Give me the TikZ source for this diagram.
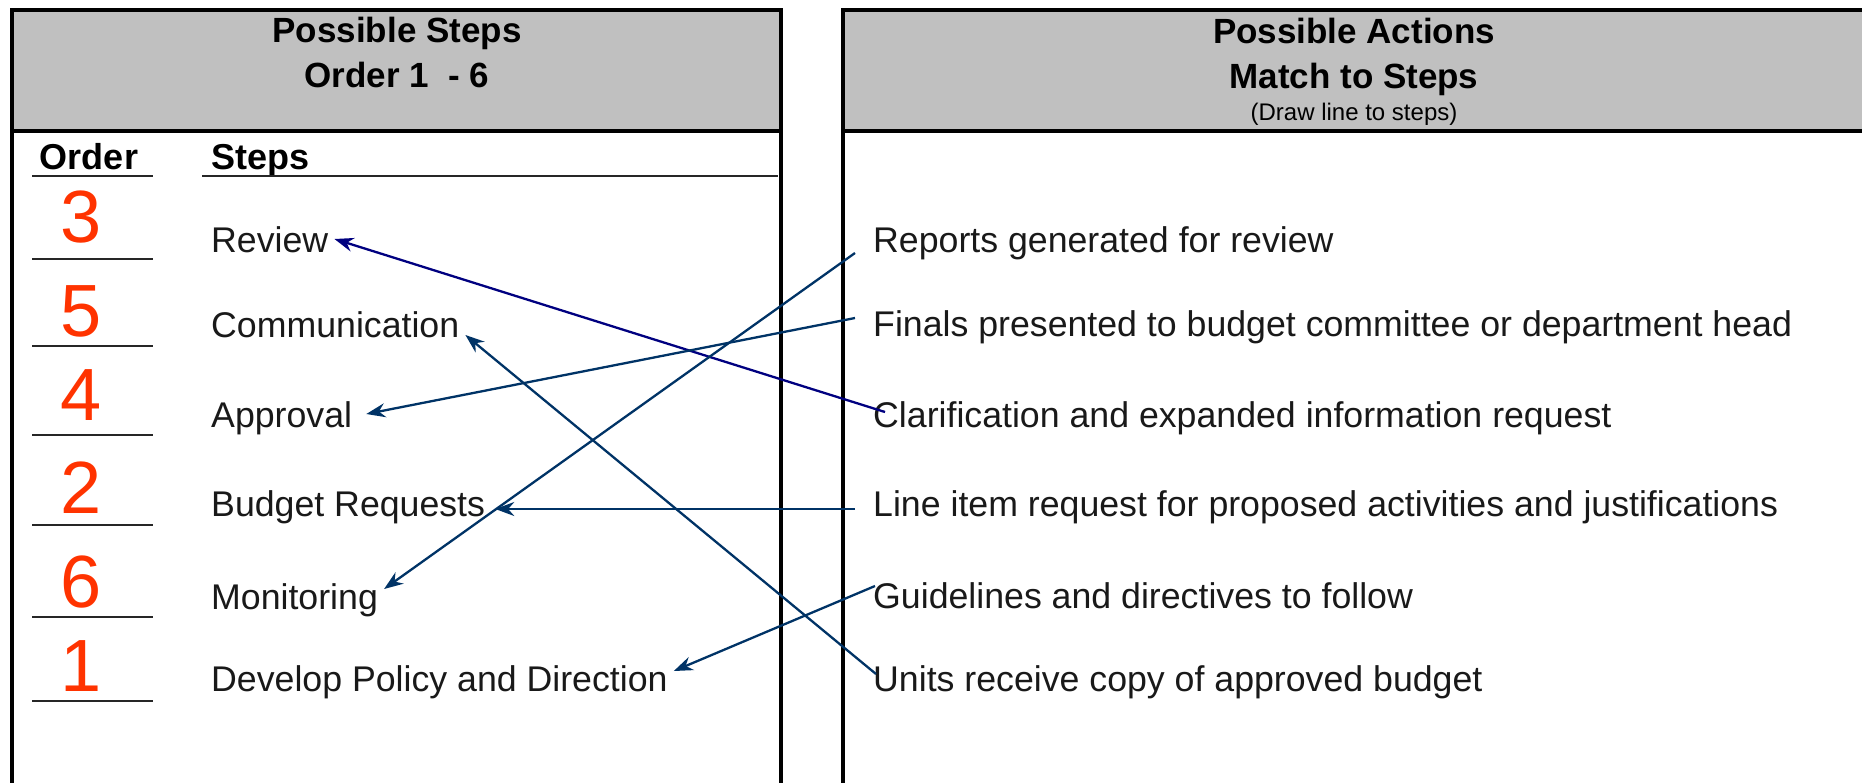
\documentclass[tikz,border=0pt]{standalone}
\usepackage{fontspec}
\setmainfont{Liberation Sans}
\usetikzlibrary{arrows.meta}
\definecolor{hdrgray}{RGB}{192,192,192}
\definecolor{ordred}{RGB}{255,51,0}
\definecolor{linkblue}{RGB}{0,51,102}
\definecolor{linknavy}{RGB}{0,0,128}

\begin{document}
\begin{tikzpicture}[x=1pt,y=-1pt,
  frame/.style={line width=3.5pt,black},
  rule/.style={line width=2.5pt,black!85},
  hdr/.style={font=\fontsize{35}{40}\selectfont\bfseries,inner sep=0pt,anchor=base},
  note/.style={font=\fontsize{24}{28}\selectfont,inner sep=0pt,anchor=base},
  colhead/.style={font=\fontsize{36}{40}\selectfont\bfseries,inner sep=0pt},
  num/.style={font=\fontsize{74}{80}\selectfont,text=ordred,inner sep=0pt},
  item/.style={font=\fontsize{35.7}{40}\selectfont,text=black!90,inner sep=0pt,anchor=base west},
  link/.style={line width=2.3pt,draw=linkblue,-{Stealth[length=19pt,width=14pt]}},
]
\useasboundingbox (0,0) rectangle (1862,782);

% header bands
\fill[hdrgray] (12,10) rectangle (781,131);
\fill[hdrgray] (843,10) rectangle (1880,131);

% frames of the two tables
\draw[frame] (12,795) -- (12,10) -- (781,10) -- (781,795);
\draw[frame] (12,131) -- (781,131);
\draw[frame] (843,795) -- (843,10) -- (1880,10);
\draw[frame] (843,131) -- (1880,131);

% header titles
\node[hdr] (lt1) at (397,42) {Possible Steps};
\node[hdr] (lt2) at (397,87) {Order 1\ \ - 6};
\node[hdr] (rt1) at (1354,43) {Possible Actions};
\node[hdr] (rt2) at (1354,88) {Match to Steps};
\node[note] (rt3) at (1354,120) {(Draw line to steps)};

% column headings
\node[colhead,anchor=base] (ordhd) at (89,169) {Order};
\node[colhead,anchor=base west] (stephd) at (211,169) {Steps};
\draw[rule] (32,176) -- (153,176);
\draw[rule] (202,176) -- (778,176);

% order numbers and their blanks
\node[num] (n1) at (81,217) {3};
\node[num] (n2) at (81,311) {5};
\node[num] (n3) at (81,395) {4};
\node[num] (n4) at (81,488) {2};
\node[num] (n5) at (81,582) {6};
\node[num] (n6) at (81,666) {1};
\foreach \y in {259,346,435,525,617,701}
  \draw[rule] (32,\y) -- (153,\y);

% steps
\node[item] (review) at (211,252) {Review};
\node[item] (comm)   at (211,337) {Communication};
\node[item] (appr)   at (211,427) {Approval};
\node[item] (budget) at (211,516) {Budget Requests};
\node[item] (monit)  at (211,609) {Monitoring};
\node[item] (policy) at (211,691) {Develop Policy and Direction};

% actions
\node[item] (rep)   at (873,252) {Reports generated for review};
\node[item] (fin)   at (873,336) {Finals presented to budget committee or department head};
\node[item] (clar)  at (873,427) {Clarification and expanded information request};
\node[item] (line)  at (873,516) {Line item request for proposed activities and justifications};
\node[item] (guide) at (873,608) {Guidelines and directives to follow};
\node[item] (units) at (873,691) {Units receive copy of approved budget};

% matching lines
\draw[link,draw=linknavy] ([xshift=12pt,yshift=15pt]clar.base west) -- ([xshift=6pt,yshift=13pt]review.base east);
\draw[link] ([xshift=3pt,yshift=17pt]units.base west) -- ([xshift=6pt,yshift=2pt]comm.base east);
\draw[link] ([xshift=-18pt,yshift=18pt]fin.base west) -- ([xshift=14pt,yshift=13pt]appr.base east);
\draw[link] ([xshift=-18pt,yshift=7pt]line.base west) -- ([xshift=10pt,yshift=7pt]budget.base east);
\draw[link] ([xshift=-18pt,yshift=-1pt]rep.base west) -- ([xshift=6pt,yshift=20pt]monit.base east);
\draw[link] ([xshift=2pt,yshift=22pt]guide.base west) -- ([xshift=6pt,yshift=20pt]policy.base east);
\end{tikzpicture}
\end{document}
